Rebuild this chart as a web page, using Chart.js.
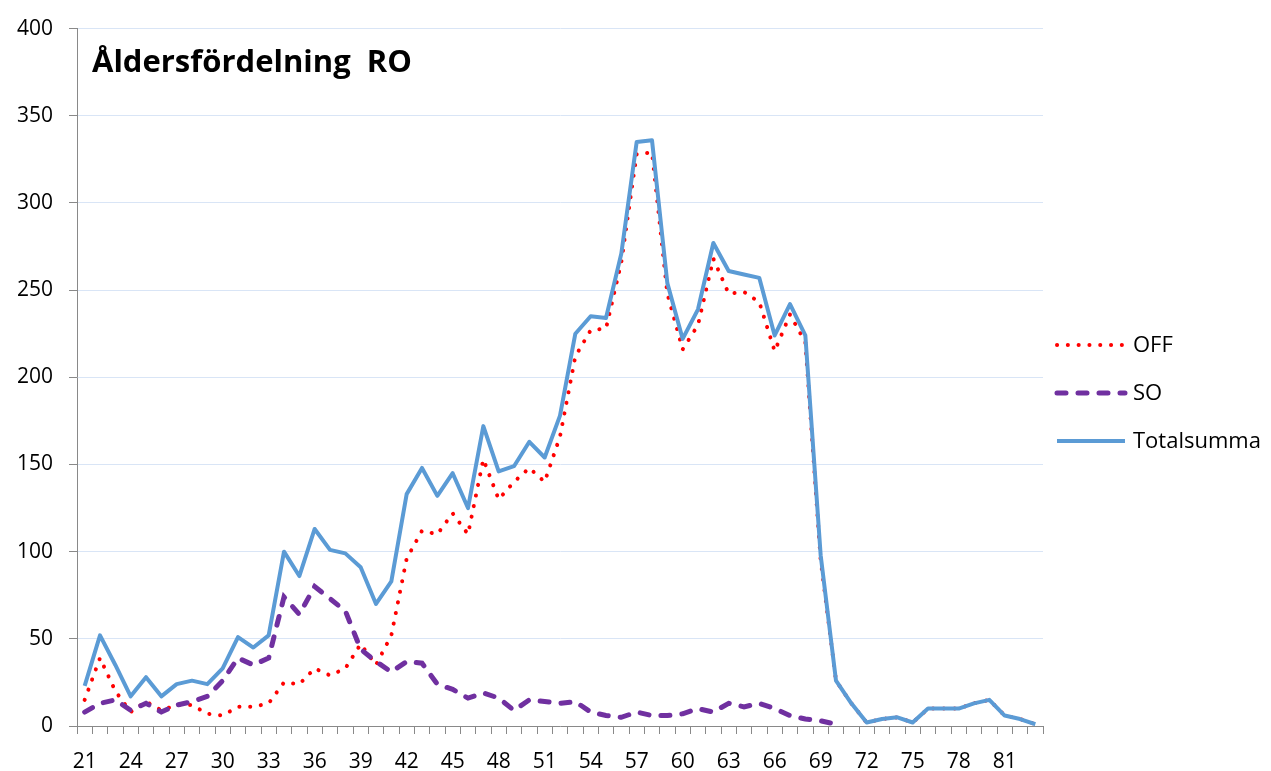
<!doctype html>
<html lang="sv">
  <head>
    <meta charset="utf-8">
    <title>Åldersfördelning RO</title>
    <style>
        *{
            box-sizing: border-box;
            margin:0;
            padding:0;
        }
        body{
            background-color:#fff;
        }
        .chartbox{
            width:1271px;
            height:771px;
        }
    </style>
  </head>
  <body>
    <div class="chartbox">
        <canvas id="myChart" width="1271" height="771"></canvas>
    </div>

    <script src="https://cdn.jsdelivr.net/npm/chart.js@4/dist/chart.umd.min.js"></script>
    <script>

// ages on the x axis (every 3rd one gets a label)
const ages = [21,22,23,24,25,26,27,28,29,30,31,32,33,34,35,36,37,38,39,40,
              41,42,43,44,45,46,47,48,49,50,51,52,53,54,55,56,57,58,59,60,
              61,62,63,64,65,66,67,68,69,70,71,72,73,74,75,76,77,78,79,80,
              81,82,83];

const offValues = [15,39,20,8,14,9,12,12,7,6,11,11,13,25,24,33,29,33,47,35,
                   52,96,112,110,122,110,153,130,140,148,140,166,212,227,228,266,328,329,248,216,
                   230,268,248,249,243,215,236,220,95,26,13,2,4,5,2,10,10,10,13,15,
                   6,4,1];

const soValues = [8,13,15,9,13,8,12,14,17,26,39,35,39,74,64,80,73,66,44,37,
                  31,37,36,24,21,16,19,16,9,15,14,13,14,8,6,5,8,6,6,7,
                  10,8,13,11,13,10,6,4,3,1,null,null,null,null,null,null,null,null,null,null,
                  null,null,null];

const totalValues = [23,52,35,17,28,17,24,26,24,33,51,45,52,100,86,113,101,99,91,70,
                     83,133,148,132,145,125,172,146,149,163,154,178,225,235,234,271,335,336,254,222,
                     239,277,261,259,257,224,242,224,98,26,13,2,4,5,2,10,10,10,13,15,
                     6,4,1];

const yTicks = [0,50,100,150,200,250,300,350,400];

const chartTitle = 'Åldersfördelning  RO';
const axisColor = '#898989';
const gridColor = '#d9e5f6';

// title sits inside the plot, legend is drawn by hand so the line samples look right
const extras = {
    id: 'extras',
    afterDraw(chart) {
        const ctx = chart.ctx;
        const area = chart.chartArea;
        ctx.save();
        ctx.fillStyle = '#000';
        ctx.font = 'bold 31px "Open Sans"';
        ctx.textBaseline = 'alphabetic';
        ctx.fillText(chartTitle, area.left + 15, area.top + 43);

        ctx.font = '22px "Open Sans"';
        ctx.textBaseline = 'middle';
        chart.data.datasets.forEach((ds, i) => {
            const y = 345 + i * 48;
            const x0 = area.right + 12;
            ctx.beginPath();
            ctx.strokeStyle = ds.borderColor;
            ctx.lineWidth = ds.borderWidth;
            ctx.lineCap = ds.borderCapStyle || 'butt';
            ctx.setLineDash(ds.borderDash || []);
            ctx.moveTo(x0 + 2, y);
            ctx.lineTo(x0 + 70, y);
            ctx.stroke();
            ctx.setLineDash([]);
            ctx.fillText(ds.label, x0 + 78, y + 1);
        });
        ctx.restore();
    }
};

const ctx = document.getElementById('myChart').getContext('2d');
const myChart = new Chart(ctx, {
    type: 'line',
    data: {
        labels: ages,
        datasets: [{
            label: 'OFF',
            data: offValues,
            borderColor: '#ff0000',
            borderWidth: 4,
            borderDash: [0.1, 10.7],
            borderCapStyle: 'round',
            pointRadius: 0,
            tension: 0,
            order: 3
        }, {
            label: 'SO',
            data: soValues,
            borderColor: '#7030a0',
            borderWidth: 5,
            borderDash: [9, 12],
            borderCapStyle: 'round',
            pointRadius: 0,
            tension: 0,
            order: 2
        }, {
            label: 'Totalsumma',
            data: totalValues,
            borderColor: '#5b9bd5',
            borderWidth: 4,
            borderJoinStyle: 'round',
            pointRadius: 0,
            tension: 0,
            order: 1
        }]
    },
    options: {
        responsive: false,
        animation: false,
        layout: {
            padding: { left: 0, right: 228, top: 24, bottom: 0 }
        },
        plugins: {
            legend: { display: false },
            tooltip: { enabled: false }
        },
        scales: {
            x: {
                offset: true,
                afterFit(scale) { scale.height = 45; },
                grid: {
                    offset: true,
                    drawOnChartArea: false,
                    drawTicks: true,
                    tickLength: 8,
                    tickColor: axisColor
                },
                border: { display: true, color: axisColor, width: 1 },
                ticks: {
                    autoSkip: false,
                    maxRotation: 0,
                    padding: 15,
                    color: '#000',
                    font: { family: '"Open Sans"', size: 21 },
                    callback: (val, idx) => idx % 3 === 0 ? ages[idx] : ''
                }
            },
            y: {
                min: 0,
                max: 400,
                afterFit(scale) { scale.width = 77; },
                afterBuildTicks(scale) { scale.ticks = yTicks.map(v => ({ value: v })); },
                grid: {
                    color: gridColor,
                    lineWidth: 1,
                    tickLength: 8,
                    tickColor: axisColor
                },
                border: { display: true, color: axisColor, width: 1 },
                ticks: {
                    padding: 16,
                    color: '#000',
                    font: { family: '"Open Sans"', size: 21 }
                }
            }
        }
    },
    plugins: [extras]
});
      </script>
</body>
</html>
